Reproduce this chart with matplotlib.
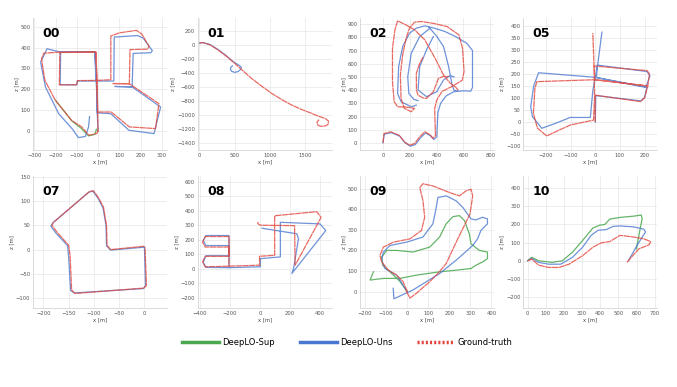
import numpy as np
import matplotlib.pyplot as plt
from matplotlib.lines import Line2D
from matplotlib.ticker import MultipleLocator

nan = np.nan

# ---- trajectories (x [m], z [m]) ----
# 00
gt00_x = [0, -2, -5, -97, -100, -182, -180, -10, -6, 60, 60, 100, 180, 205, 240, 232, 150, 147, 70, 147,
          286, 270, 147, 62, -2, -5, -10, -180, -255, -266, -250, -201, -124, -77, -43, -5, 0]
gt00_z = [0, 92, 243, 242, 222, 222, 376, 378, 243, 246, 455, 470, 482, 465, 405, 392, 390, 227, 228, 227,
          132, 13, 21, 92, 92, 243, 378, 378, 373, 346, 243, 148, 52, 21, -19, -10, 5]
uns00_x = [0, -4, -8, -97, -100, -178, -176, -15, -10, 74, 76, 110, 185, 212, 255, 248, 165, 160, 80, 160,
           294, 263, 145, 60, -4, -8, -15, -185, -240, -270, -247, -185, -120, -93, -60, -45, -40]
uns00_z = [0, 90, 240, 240, 222, 222, 380, 380, 240, 240, 450, 452, 457, 445, 385, 375, 372, 212, 214, 212,
           116, -11, 5, 84, 88, 240, 380, 380, 394, 330, 211, 84, 10, -30, -25, 20, 70]
sup00_x = [-201, -124, -80, -45, -15, -8]
sup00_z = [150, 50, 15, -22, -15, 10]

# 01
gt01_x = [0, 48, 150, 262, 380, 500, 620, 738, 880, 1024, 1170, 1310, 1450, 1595, 1700, 1786, 1833, 1830,
          1790, 1720, 1680, 1670, 1700]
gt01_z = [24, 33, 0, -71, -160, -262, -370, -476, -585, -690, -780, -857, -920, -976, -1020, -1048, -1085,
          -1130, -1155, -1160, -1140, -1100, -1065]
uns01_x = [0, 48, 150, 255, 370, 480, 570, 595, 585, 550, 500, 455, 440, 448, 470]
uns01_z = [24, 33, 5, -60, -145, -240, -295, -320, -350, -380, -392, -375, -345, -315, -300]

# 02
gt02_x = [0, 8, 58, 122, 160, 198, 236, 274, 312, 351, 372, 392, 390, 386, 401, 440, 516, 592, 605, 594,
          566, 478, 380, 287, 236, 198, 173, 147, 130, 135, 160, 211, 236, 170, 109, 84, 71, 71, 90, 109,
          170, 236, 312, 389, 452, 503, 545, 565, nan,
          300, 274, 249, 250, 262, 300, 325, 376, 414, 452, 490]
gt02_z = [0, 71, 84, 58, 8, -18, -5, 46, 84, 63, 35, 55, 110, 260, 324, 390, 428, 475, 540, 715,
          819, 882, 905, 920, 915, 870, 793, 667, 515, 337, 262, 236, 262, 272, 274, 312, 464, 717, 860, 925,
          895, 857, 781, 641, 514, 451, 420, 395, nan,
          650, 603, 527, 400, 362, 340, 337, 388, 489, 505, 502]
uns02_x = [0, 10, 62, 126, 166, 205, 242, 280, 318, 356, 380, 402, 404, 410, 430, 470, 528, 600, 655, 668,
           668, 625, 541, 460, 380, 312, 250, 198, 147, 117, 109, 135, 211, 249, nan,
           351, 274, 211, 185, 193, 230, 262, nan,
           376, 325, 274, 262, 325, 401, 452, 500, 530, nan,
           340, 400, 452, 490, 516, 530, 560]
uns02_z = [0, 66, 78, 50, 0, -25, -12, 38, 76, 52, 25, 48, 110, 230, 300, 355, 388, 395, 392, 420,
           700, 755, 806, 845, 870, 887, 870, 831, 730, 578, 375, 312, 274, 286, nan,
           869, 806, 679, 502, 375, 330, 320, nan,
           806, 705, 578, 401, 350, 388, 477, 510, 500, nan,
           880, 810, 730, 578, 439, 400, 390]

# 05
gt05_x = [0, -1, 183, 200, 213, -2, -4, 210, 220, 213, -2, -237, -245, -251, -235, -197, -150, -100, -7, -3, -5, -10]
gt05_z = [0, 112, 85, 100, 150, 176, 233, 214, 200, 150, 176, 168, 140, 36, -25, -58, -35, -12, 8, 100, 233, 370]
uns05_x = [0, 2, 185, 200, 210, 5, 8, 210, 222, 205, 0, -230, -250, -262, -255, -217, -160, -102, -20, -10, 10, 27]
uns05_z = [0, 110, 88, 102, 145, 185, 237, 210, 192, 144, 186, 205, 150, 64, 22, -26, -5, 19, 19, 130, 240, 374]

# 07
gt07_x = [0, -67, -74, -75, -81, -91, -101, -109, -180, -183, -173, -150, -147, -144, -137, -1, 4, 1]
gt07_z = [7, 0, 9, 50, 87, 107, 121, 119, 56, 50, 36, 9, -12, -83, -90, -79, -73, 5]
uns07_x = [0, -67, -75, -76, -82, -92, -102, -110, -181, -185, -175, -152, -150, -146, -139, -2, 2, 0]
uns07_z = [5, -1, 8, 50, 86, 106, 120, 118, 55, 48, 34, 8, -13, -84, -89, -80, -74, 4]

# 08
gt08_x = [-15, -11, 5, 232, 236, 409, 380, 99, 99, -2, -2, -206, -365, -382, -365, -206, -206, -365, -382, -365, -206, -206]
gt08_z = [322, 309, 300, 297, 25, 354, 393, 365, 93, 86, 25, 18, 14, 48, 86, 86, 150, 150, 184, 222, 222, 18]
uns08_x = [15, 247, 258, 225, 214, 440, 402, 137, 137, 4, 4, -206, -360, -378, -360, -206, -206, -360, -378, -360, -206, -206]
uns08_z = [279, 241, 207, 2, -32, 263, 309, 320, 82, 70, 14, 8, 10, 45, 90, 90, 160, 160, 195, 229, 229, 8]

# 09
gt09_x = [0, -19, -50, -89, -121, -129, -113, -66, 13, 68, 83, 75, 60, 75, 122, 201, 248, 279, 303, 311,
          298, 279, 240, 185, 146, 107, 44, 13, -6]
gt09_z = [0, 48, 80, 104, 144, 176, 216, 240, 256, 297, 361, 441, 505, 524, 513, 481, 465, 489, 497, 465,
          377, 337, 256, 136, 88, 48, -8, -32, 8]
uns09_x = [0, -50, -105, -121, -113, -82, -3, 75, 122, 138, 146, 185, 232, 264, 303, 326, 358, 381, 381, 350,
           334, 311, 232, 154, 28, -63, -66]
uns09_z = [0, 80, 112, 152, 192, 224, 240, 265, 329, 409, 457, 465, 441, 409, 353, 348, 361, 353, 329, 297,
           256, 224, 152, 88, 8, -35, 16]
sup09_x = [0, -35, -82, -116, -121, -97, -50, 28, 107, 154, 185, 217, 248, 272, 295, 303, 342, 381, 381, 358,
           326, 303, 232, 154, 44, -35, -113, -176, -160]
sup09_z = [0, 50, 96, 128, 168, 200, 200, 192, 216, 265, 329, 364, 369, 345, 280, 232, 200, 192, 160, 144,
           128, 112, 104, 96, 80, 64, 64, 56, 96]

# 10
gt10_x = [0, 22, 60, 116, 172, 228, 303, 360, 406, 453, 509, 584, 640, 678, 669, 612, 547]
gt10_z = [0, 9, -24, -37, -37, -19, 28, 75, 99, 106, 140, 131, 121, 106, 88, 65, -9]
uns10_x = [0, 22, 60, 116, 182, 247, 303, 350, 388, 434, 472, 509, 584, 640, 650, 600, 556]
uns10_z = [0, 13, -9, -19, -19, 19, 75, 140, 168, 172, 190, 192, 187, 174, 159, 80, 0]
sup10_x = [0, 22, 60, 135, 191, 247, 303, 360, 397, 425, 453, 509, 584, 626, 631, 599]
sup10_z = [0, 19, 0, -9, 0, 47, 112, 181, 196, 200, 230, 239, 246, 252, 233, 65]

seq_names = ['00', '01', '02', '05', '07', '08', '09', '10']
gt_all = [(gt00_x, gt00_z), (gt01_x, gt01_z), (gt02_x, gt02_z), (gt05_x, gt05_z),
          (gt07_x, gt07_z), (gt08_x, gt08_z), (gt09_x, gt09_z), (gt10_x, gt10_z)]
uns_all = [(uns00_x, uns00_z), (uns01_x, uns01_z), (uns02_x, uns02_z), (uns05_x, uns05_z),
           (uns07_x, uns07_z), (uns08_x, uns08_z), (uns09_x, uns09_z), (uns10_x, uns10_z)]
sup_all = [(sup00_x, sup00_z), None, None, None, None, None, (sup09_x, sup09_z), (sup10_x, sup10_z)]

xlims = [(-305, 325), (-25, 1880), (-170, 830), (-292, 252), (-220, 45), (-415, 480), (-223, 413), (-24, 715)]
ylims = [(-90, 540), (-1500, 380), (-55, 945), (-117, 432), (-120, 151), (-270, 638), (-80, 561), (-261, 467)]
xsteps = [100, 500, 200, 100, 50, 200, 100, 100]
ysteps = [100, 200, 100, 50, 50, 100, 100, 100]

GREEN = '#4aa84f'
BLUE = '#4a78d0'
RED = '#e2453b'

fig = plt.figure(figsize=(6.77, 3.87), dpi=100)

col_left = [0.049, 0.292, 0.532, 0.773]
row_bottom = [0.612, 0.204]
w, h = 0.198, 0.341

for i, name in enumerate(seq_names):
    ax = fig.add_axes([col_left[i % 4], row_bottom[i // 4], w, h])
    if sup_all[i] is not None:
        ax.plot(sup_all[i][0], sup_all[i][1], color=GREEN, lw=0.9, alpha=0.85)
    ax.plot(uns_all[i][0], uns_all[i][1], color=BLUE, lw=0.9, alpha=0.8)
    ax.plot(gt_all[i][0], gt_all[i][1], color=RED, lw=0.9, alpha=0.8, ls=(0, (5, 0.4)))
    ax.set_xlim(xlims[i])
    ax.set_ylim(ylims[i])
    ax.xaxis.set_major_locator(MultipleLocator(xsteps[i]))
    ax.yaxis.set_major_locator(MultipleLocator(ysteps[i]))
    ax.grid(True, color='#e6e6e6', lw=0.5)
    ax.set_axisbelow(True)
    for s in ['top', 'right']:
        ax.spines[s].set_visible(False)
    for s in ['left', 'bottom']:
        ax.spines[s].set_color('#cccccc')
        ax.spines[s].set_linewidth(0.5)
    ax.tick_params(labelsize=3.8, colors='#555555', length=0, pad=2)
    ax.set_xlabel('x [m]', fontsize=3.8, color='#444444', labelpad=1)
    ax.set_ylabel('z [m]', fontsize=3.8, color='#444444', labelpad=1)
    ax.text(0.07, 0.885, name, transform=ax.transAxes, fontsize=9, fontweight='bold',
            ha='left', va='center')

handles = [Line2D([], [], color=GREEN, lw=2.5),
           Line2D([], [], color=BLUE, lw=2.5),
           Line2D([], [], color=RED, lw=2.5, ls=(0, (0.6, 0.6)))]
fig.legend(handles, ['DeepLO-Sup', 'DeepLO-Uns', 'Ground-truth'], loc='center',
           bbox_to_anchor=(0.513, 0.116), ncol=3, frameon=False, fontsize=6,
           handlelength=4.4, columnspacing=3.0, handletextpad=0.4)

fig.savefig('out.png', dpi=100)
